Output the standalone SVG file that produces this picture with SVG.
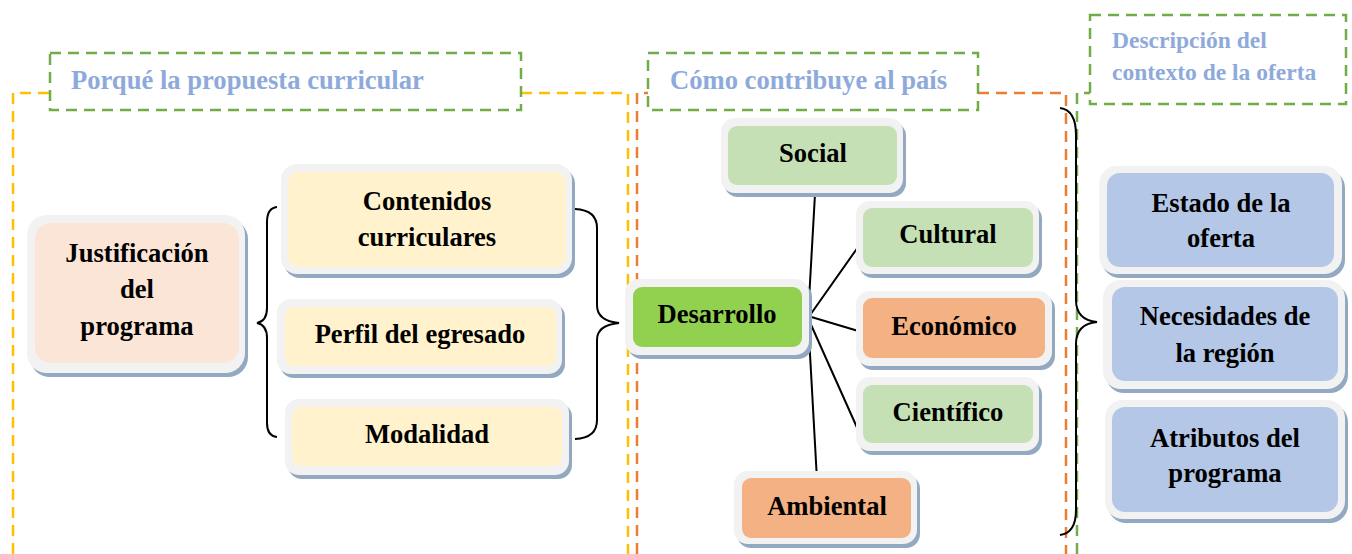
<svg xmlns="http://www.w3.org/2000/svg" width="1352" height="554" viewBox="0 0 1352 554">
<style>
.frame{fill:none;stroke-width:2.5;stroke-dasharray:11 7}
.yel{stroke:#FFC000}
.ora{stroke:#ED7D31}
.grn{stroke:#70AD47}
.head{fill:#8EAADB;font-family:"Liberation Serif","Times New Roman",serif;font-weight:bold;font-size:26.6px}
.head2{font-size:23.5px}
.sh{fill:#93A8C1}
.out{fill:#F2F2F2}
.lbl{fill:#000;font-family:"Liberation Serif","Times New Roman",serif;font-weight:bold;font-size:26.6px;text-anchor:middle}
.con{fill:none;stroke:#000;stroke-width:2}
.peach{fill:#FBE5D6}.cream{fill:#FFF2CC}.lime{fill:#92D050}.lgreen{fill:#C5E0B4}.salmon{fill:#F4B183}.blue{fill:#B4C7E7}
</style>
<rect width="1352" height="554" fill="#fff"/>
<g id="frames">
<path class="frame yel" d="M13,554 V93 H50 M521,93 H628 V554"/>
<path class="frame ora" d="M637,554 V93 H648 M978,93 H1066 V554"/>
<path class="frame grn" d="M1077,554 V93 H1090"/>
<rect class="frame grn" x="50" y="53" width="471" height="57"/>
<rect class="frame grn" x="648" y="53" width="330" height="57"/>
<rect class="frame grn" x="1090" y="15" width="256" height="89"/>
<text class="head" x="71" y="89">Porqué la propuesta curricular</text>
<text class="head" x="670" y="89">Cómo contribuye al país</text>
<text class="head head2" x="1112" y="48">Descripción del</text>
<text class="head head2" x="1112" y="80">contexto de la oferta</text>
</g>
<g id="connectors">
<path class="con" d="M277,207 Q267,208 267,222 L267,308 Q267,321 257,323 Q267,325 267,338 L267,423 Q267,436 277,437"/>
<path class="con" d="M575,209 Q597,210 597,228 L597,305 Q597,321 619,323 Q597,325 597,340 L597,420 Q597,438 575,439"/>
<path class="con" d="M1060,108 Q1076,110 1076,135 L1076,300 Q1076,320 1097,322 Q1076,324 1076,344 L1076,510 Q1076,533 1060,535"/>
<path class="con" d="M815,194 L808,318 M863,240 L808,318 M865,333 L808,316 M859,432 L808,318 M817,480 L808,318"/>
</g>
<g id="n-justificacion">
<rect class="sh" x="30" y="219" width="218" height="158" rx="20"/>
<rect class="out" x="27" y="215" width="218" height="158" rx="20"/>
<rect class="peach" x="35" y="223" width="204" height="140" rx="16"/>
<text class="lbl" x="137" y="262">Justificación</text>
<text class="lbl" x="137" y="298">del</text>
<text class="lbl" x="137" y="335">programa</text>
</g>
<g id="n-contenidos">
<rect class="sh" x="284" y="168" width="291" height="110" rx="16"/>
<rect class="out" x="281" y="164" width="291" height="110" rx="16"/>
<rect class="cream" x="288" y="172" width="278" height="95" rx="11"/>
<text class="lbl" x="427" y="210">Contenidos</text>
<text class="lbl" x="427" y="246">curriculares</text>
</g>
<g id="n-perfil">
<rect class="sh" x="280" y="303" width="285" height="75" rx="14"/>
<rect class="out" x="277" y="299" width="285" height="75" rx="14"/>
<rect class="cream" x="285" y="307" width="271" height="59" rx="9"/>
<text class="lbl" x="420" y="343">Perfil del egresado</text>
</g>
<g id="n-modalidad">
<rect class="sh" x="288" y="403" width="284" height="76" rx="14"/>
<rect class="out" x="285" y="399" width="284" height="76" rx="14"/>
<rect class="cream" x="292" y="407" width="270" height="59" rx="9"/>
<text class="lbl" x="427" y="443">Modalidad</text>
</g>
<g id="n-desarrollo">
<rect class="sh" x="628" y="283" width="184" height="76" rx="14"/>
<rect class="out" x="625" y="279" width="184" height="76" rx="14"/>
<rect class="lime" x="633" y="287" width="169" height="60" rx="9"/>
<text class="lbl" x="717" y="323">Desarrollo</text>
</g>
<g id="n-social">
<rect class="sh" x="724" y="122" width="182" height="75" rx="14"/>
<rect class="out" x="721" y="118" width="182" height="75" rx="14"/>
<rect class="lgreen" x="728" y="126" width="169" height="59" rx="9"/>
<text class="lbl" x="813" y="162">Social</text>
</g>
<g id="n-cultural">
<rect class="sh" x="859" y="205" width="183" height="73" rx="14"/>
<rect class="out" x="856" y="201" width="183" height="73" rx="14"/>
<rect class="lgreen" x="863" y="208" width="170" height="59" rx="9"/>
<text class="lbl" x="948" y="243">Cultural</text>
</g>
<g id="n-economico">
<rect class="sh" x="859" y="295" width="196" height="75" rx="14"/>
<rect class="out" x="856" y="291" width="196" height="75" rx="14"/>
<rect class="salmon" x="863" y="298" width="182" height="60" rx="9"/>
<text class="lbl" x="954" y="335">Económico</text>
</g>
<g id="n-cientifico">
<rect class="sh" x="859" y="381" width="183" height="74" rx="14"/>
<rect class="out" x="856" y="377" width="183" height="74" rx="14"/>
<rect class="lgreen" x="863" y="385" width="170" height="58" rx="9"/>
<text class="lbl" x="948" y="421">Científico</text>
</g>
<g id="n-ambiental">
<rect class="sh" x="737" y="475" width="183" height="73" rx="14"/>
<rect class="out" x="734" y="471" width="183" height="73" rx="14"/>
<rect class="salmon" x="742" y="478" width="169" height="60" rx="9"/>
<text class="lbl" x="827" y="515">Ambiental</text>
</g>
<g id="n-estado">
<rect class="sh" x="1102" y="170" width="243" height="108" rx="18"/>
<rect class="out" x="1099" y="166" width="243" height="108" rx="18"/>
<rect class="blue" x="1107" y="173" width="227" height="94" rx="13"/>
<text class="lbl" x="1221" y="212">Estado de la</text>
<text class="lbl" x="1221" y="247">oferta</text>
</g>
<g id="n-necesidades">
<rect class="sh" x="1106" y="284" width="242" height="109" rx="18"/>
<rect class="out" x="1103" y="280" width="242" height="109" rx="18"/>
<rect class="blue" x="1112" y="287" width="226" height="94" rx="13"/>
<text class="lbl" x="1225" y="325">Necesidades de</text>
<text class="lbl" x="1225" y="362">la región</text>
</g>
<g id="n-atributos">
<rect class="sh" x="1108" y="404" width="240" height="119" rx="18"/>
<rect class="out" x="1105" y="400" width="240" height="119" rx="18"/>
<rect class="blue" x="1112" y="407" width="226" height="105" rx="13"/>
<text class="lbl" x="1225" y="447">Atributos del</text>
<text class="lbl" x="1225" y="482">programa</text>
</g>
</svg>
